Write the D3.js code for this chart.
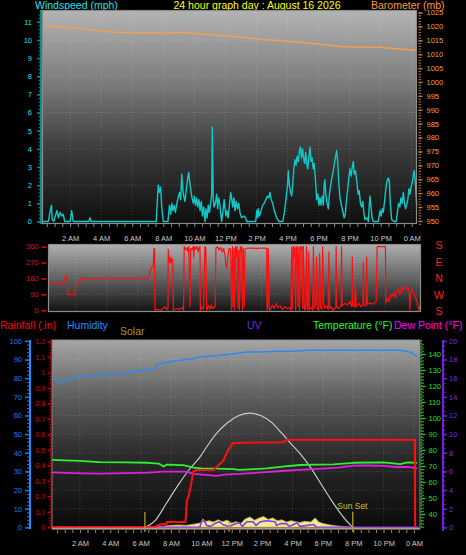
<!DOCTYPE html>
<html><head><meta charset="utf-8">
<script src="https://cdn.jsdelivr.net/npm/d3@7"></script>
<style>
html,body{margin:0;padding:0;background:#000;overflow:hidden;}
svg{display:block;}
text{font-family:"Liberation Sans",Arial,sans-serif;}
</style></head><body>
<svg id="c" width="466" height="555"></svg>
<script>
// ---------- DATA ----------
const hourTicks = [2,4,6,8,10,12,14,16,18,20,22,24];
const hourLabels = ["2 AM","4 AM","6 AM","8 AM","10 AM","12 PM","2 PM","4 PM","6 PM","8 PM","10 PM","0 AM"];
const titleText = "24 hour graph day : August 16 2026";

// windspeed (mph): [hour, value]
const windspeed = [[0.2,0],[0.6,0],[0.7,0.5],[0.8,0.9],[0.85,0.1],[0.95,0],[1.05,0.3],[1.15,0.6],[1.25,0.2],[1.35,0.5],[1.45,0.3],[1.55,0.4],[1.65,0],[2.0,0],[2.1,0.6],[2.2,0],[3.2,0],[3.28,0.2],[3.35,0],[7.55,0],[7.62,1.2],[7.68,2.0],[7.75,1.6],[7.83,1.9],[7.9,0.8],[8.0,0],[8.3,0],[8.4,0.9],[8.48,0.4],[8.55,1.0],[8.62,0.6],[8.7,0.9],[8.78,0.5],[8.86,0.9],[8.95,1.3],[9.05,1.6],[9.12,1.2],[9.19,2.6],[9.25,1.8],[9.32,1.4],[9.4,1.1],[9.5,1.9],[9.58,2.4],[9.64,2.7],[9.7,2.2],[9.78,1.7],[9.85,1.3],[9.94,1.0],[10.0,1.4],[10.08,0.9],[10.15,1.3],[10.22,0.8],[10.3,1.2],[10.37,0.6],[10.45,1.1],[10.52,0.3],[10.6,0.8],[10.69,0],[10.75,0.7],[10.82,0.2],[10.9,0.9],[10.97,0.5],[11.05,1.0],[11.12,1.5],[11.16,5.2],[11.22,1.2],[11.27,0.8],[11.35,1.0],[11.44,1.5],[11.5,0.7],[11.57,1.3],[11.65,0.9],[11.7,0.4],[11.76,0],[11.85,0.6],[11.92,1.2],[11.98,0.7],[12.04,0.3],[12.1,0.6],[12.18,0.2],[12.26,0.9],[12.34,1.6],[12.4,1.3],[12.47,0.8],[12.55,1.3],[12.62,0.6],[12.7,1.1],[12.78,0.7],[12.86,1.0],[12.94,0.5],[13.0,0.3],[13.05,0.2],[13.2,0.3],[13.3,0.2],[13.37,0],[13.95,0],[14.02,0.6],[14.08,0.2],[14.12,0.7],[14.2,0.3],[14.3,0.6],[14.4,0.9],[14.5,1.0],[14.6,1.2],[14.7,1.4],[14.8,1.3],[14.87,1.6],[14.95,1.2],[15.05,1.0],[15.15,0.6],[15.3,0.2],[15.45,0],[15.7,0],[15.8,0.5],[15.9,1.2],[16.0,2.0],[16.05,2.8],[16.12,2.0],[16.2,1.6],[16.27,1.4],[16.35,2.2],[16.42,3.0],[16.48,3.4],[16.55,3.1],[16.62,3.6],[16.7,3.3],[16.77,3.9],[16.83,4.1],[16.9,3.5],[16.97,4.0],[17.02,3.6],[17.1,3.2],[17.17,3.8],[17.24,3.2],[17.3,2.9],[17.38,3.5],[17.45,4.1],[17.52,3.3],[17.58,3.5],[17.66,2.9],[17.72,3.2],[17.8,2.3],[17.88,1.2],[17.95,1.5],[18.02,0.9],[18.09,1.3],[18.16,0.9],[18.24,1.4],[18.31,0.9],[18.36,2.0],[18.41,2.3],[18.47,1.5],[18.55,1.0],[18.63,0.7],[18.7,1.5],[18.78,2.0],[18.86,2.4],[18.95,2.8],[19.02,3.2],[19.1,3.6],[19.17,3.9],[19.24,3.2],[19.3,2.2],[19.38,1.3],[19.45,1.0],[19.55,0.6],[19.65,0.2],[19.72,0.4],[19.8,1.2],[19.88,1.8],[19.95,2.4],[20.02,2.9],[20.1,2.5],[20.17,3.0],[20.24,3.3],[20.3,2.6],[20.38,2.8],[20.45,2.3],[20.55,1.5],[20.62,1.7],[20.7,1.0],[20.78,0.8],[20.85,1.1],[20.92,0.5],[20.99,0.1],[21.1,0.2],[21.21,0],[21.26,0.8],[21.31,1.4],[21.38,0.8],[21.45,0.2],[21.53,0],[21.85,0],[21.9,0.3],[21.96,0.6],[22.03,0.3],[22.1,0.7],[22.17,0.5],[22.25,1.1],[22.32,1.7],[22.4,2.2],[22.49,2.4],[22.56,2.2],[22.62,1.0],[22.71,0.1],[22.85,0],[23.0,0],[23.08,0.5],[23.15,1.0],[23.24,0.8],[23.3,1.3],[23.38,1.0],[23.46,1.6],[23.52,1.1],[23.6,0.7],[23.67,0.9],[23.75,1.2],[23.82,1.8],[23.89,1.5],[23.95,1.9],[24.05,2.2],[24.15,2.8],[24.22,2.3],[24.32,0.9]];

// barometer (mb)
const barometer = [[0.2,1020.2],[1.0,1019.9],[2.0,1019.5],[2.83,1019.2],[3.93,1018.3],[5.0,1017.9],[6.05,1017.8],[7.0,1017.7],[8.24,1017.6],[9.53,1017.9],[10.37,1017.3],[11.5,1016.8],[12.49,1016.4],[13.3,1016.0],[14.23,1015.4],[15.5,1014.8],[16.8,1014.3],[18.0,1013.7],[19.38,1012.8],[20.5,1012.6],[21.96,1012.5],[23.0,1012.0],[24.3,1011.4]];

// wind direction (degrees)
const windDirection = [[0.33,153],[0.5,152],[0.76,150],[0.9,148],[1.08,145],[1.2,160],[1.3,178],[1.41,195],[1.45,150],[1.51,88],[1.94,88],[1.97,130],[2.01,145],[2.22,150],[2.28,170],[2.31,180],[6.68,180],[6.75,200],[6.83,230],[6.95,245],[7.0,250],[7.05,350],[7.09,345],[7.11,0],[7.3,5],[7.5,0],[7.76,20],[7.85,5],[7.95,10],[7.97,345],[8.02,270],[8.08,300],[8.14,265],[8.2,295],[8.26,280],[8.3,0],[8.5,10],[8.7,5],[8.9,15],[8.96,0],[9.0,360],[9.1,340],[9.18,355],[9.25,330],[9.3,360],[9.38,20],[9.42,350],[9.5,340],[9.58,360],[9.62,300],[9.66,360],[9.75,345],[9.82,360],[9.9,330],[9.96,355],[10.02,360],[10.05,0],[10.15,20],[10.25,5],[10.34,360],[10.4,350],[10.45,0],[10.55,25],[10.65,5],[10.75,30],[10.85,10],[11.0,20],[11.05,350],[11.15,360],[11.25,340],[11.35,355],[11.45,330],[11.55,350],[11.65,300],[11.7,250],[11.75,240],[11.82,300],[11.9,350],[12.0,345],[12.07,0],[12.12,360],[12.17,20],[12.22,350],[12.27,0],[12.32,360],[12.37,300],[12.42,360],[12.47,10],[12.52,340],[12.57,0],[12.62,360],[12.67,330],[12.72,360],[12.77,0],[12.82,350],[12.88,20],[12.93,345],[12.99,350],[13.3,352],[13.7,350],[14.0,352],[14.33,350],[14.35,0],[14.4,30],[14.43,350],[14.5,10],[14.54,0],[14.7,30],[14.8,10],[14.95,40],[15.05,15],[15.2,25],[15.35,5],[15.5,20],[15.65,10],[15.8,15],[15.9,0],[15.95,355],[16.0,10],[16.05,360],[16.1,300],[16.15,360],[16.2,0],[16.25,350],[16.3,360],[16.35,20],[16.4,355],[16.45,0],[16.5,360],[16.55,340],[16.6,360],[16.65,10],[16.7,360],[16.75,30],[16.8,0],[16.85,10],[16.9,360],[16.95,20],[17.0,0],[17.05,330],[17.1,5],[17.2,15],[17.3,0],[17.35,360],[17.4,10],[17.5,30],[17.55,300],[17.6,10],[17.7,0],[17.75,320],[17.8,15],[17.9,5],[17.95,360],[18.0,40],[18.1,10],[18.2,25],[18.3,5],[18.35,330],[18.4,10],[18.5,20],[18.6,0],[18.7,10],[18.8,15],[18.82,360],[18.85,20],[19.0,10],[19.15,30],[19.17,360],[19.2,25],[19.4,40],[19.55,30],[19.7,50],[19.84,20],[19.86,300],[19.9,30],[20.0,20],[20.08,140],[20.12,20],[20.3,40],[20.4,20],[20.55,30],[20.57,270],[20.6,30],[20.75,25],[20.79,300],[20.83,35],[21.0,40],[21.2,35],[21.4,50],[21.47,360],[22.0,360],[22.03,40],[22.15,70],[22.25,50],[22.35,90],[22.45,80],[22.55,100],[22.65,70],[22.75,110],[22.85,120],[22.95,90],[23.05,130],[23.15,110],[23.25,135],[23.35,120],[23.45,130],[23.55,100],[23.58,0],[23.62,90],[23.72,120],[23.82,100],[23.9,80],[24.0,60],[24.08,40],[24.17,0],[24.25,30]];

// humidity (%)
const humidity = [[0.16,81],[0.5,79],[0.8,77.5],[1.1,79],[1.5,80],[2.0,80.5],[2.5,81],[3.0,81.5],[3.5,82],[4.0,82.5],[4.5,82],[5.0,83],[5.5,83.5],[6.0,84],[6.5,84.5],[6.9,85],[7.1,87.5],[7.5,88],[8.0,89],[8.5,89.5],[9.0,90],[9.5,90.5],[10.0,91.5],[11.0,92],[12.0,93],[13.0,94],[14.0,94],[15.0,94.5],[16.0,94.5],[17.0,95],[18.0,95],[19.0,95],[20.0,95],[21.0,95],[22.0,95],[23.0,95],[23.5,94.5],[23.9,93.5],[24.2,91.5]];

// rainfall (in)
const rainfall = [[0.16,0],[6.95,0],[7.05,0.01],[7.35,0.02],[7.7,0.02],[7.72,0.035],[8.95,0.035],[9.0,0.1],[9.04,0.17],[9.14,0.195],[9.25,0.24],[9.36,0.30],[9.47,0.36],[9.69,0.37],[10.79,0.37],[11.0,0.39],[11.44,0.43],[11.77,0.50],[12.1,0.545],[15.4,0.55],[15.62,0.566],[24.07,0.566],[24.08,0]];

// temperature & dew point (°F)
const temperature = [[0.16,73.8],[1.0,73.5],[2.0,73.2],[3.3,72.4],[5.0,72.2],[6.5,72],[7.2,71.5],[7.5,69.6],[7.7,70.8],[8.8,70.5],[9.47,69],[10.0,68.5],[11.0,68.3],[12.1,68],[12.5,67.5],[13.5,68],[14.3,68.5],[15.5,69.8],[16.5,70.6],[17.5,70.8],[18.7,71],[20.0,72],[22.0,72.2],[23.1,71.2],[23.6,72.3],[24.2,72]];
const dewPoint = [[0.16,66],[1.5,65.5],[3.3,65.2],[5.0,65.5],[6.5,65.8],[7.5,66.5],[9.0,66.5],[9.5,65],[10.5,64.3],[11.0,63.8],[11.5,64.6],[12.5,65],[14.0,66],[15.5,67],[16.5,67.5],[18.0,68.3],[19.0,69],[20.0,70.2],[21.0,70.3],[22.0,70],[23.0,69.2],[23.6,69.5],[24.2,68.5]];

// solar (W/m²): theoretical max curve and measured
const solarMax = [[6.3,0],[7.0,40],[7.7,129],[8.5,230],[9.2,310],[9.9,377],[10.5,450],[11.0,504],[11.7,560],[12.4,598],[13.15,613],[13.9,600],[14.6,565],[15.3,505],[16.0,440],[16.5,395],[17.2,320],[17.9,230],[18.6,140],[19.3,60],[19.95,0]];
const solar = [[6.5,0],[7.0,2],[7.5,5],[8.0,10],[8.5,12],[9.0,10],[9.3,14],[9.6,18],[10.0,24],[10.1,45],[10.2,30],[10.5,35],[10.8,28],[11.1,40],[11.4,30],[11.7,38],[12.0,22],[12.3,30],[12.6,20],[12.9,45],[13.2,55],[13.5,38],[13.8,50],[14.1,58],[14.4,42],[14.7,50],[15.0,35],[15.3,40],[15.6,28],[15.9,35],[16.2,30],[16.5,25],[16.8,32],[17.2,28],[17.5,50],[17.7,30],[18.0,20],[18.5,12],[19.0,6],[19.5,3],[19.9,0]];

// UV index
const uvIndex = [[0.16,0],[9.9,0],[10.0,0.6],[10.2,0.7],[10.35,0.2],[10.6,0.1],[11.0,0.5],[11.2,0.6],[11.4,0.3],[11.8,0.1],[12.3,0.4],[12.5,0.5],[12.7,0.1],[13.0,0.6],[13.4,0.6],[13.6,0.2],[13.9,0.6],[14.3,0.7],[14.85,0.6],[14.95,0.2],[15.2,0.4],[15.6,0.4],[15.8,0.1],[16.3,0.5],[16.5,0.1],[17.4,0.3],[17.6,0],[24.3,0]];

// sun event markers (hour)
const sunMarkers = [[6.28,"rise"],[11.82,"mid"],[19.97,"set"]];

// ---------- CHART ----------
const svg = d3.select("#c");
const defs = svg.append("defs");
function grad(id, stops){
  const g = defs.append("linearGradient").attr("id",id).attr("x1",0).attr("y1",0).attr("x2",0).attr("y2",1);
  stops.forEach(s=>g.append("stop").attr("offset",s[0]).attr("stop-color",s[1]));
}
grad("gTop",[[0,"#b4b4b4"],[0.35,"#7a7a7a"],[0.65,"#3c3c3c"],[1,"#0e0e0e"]]);
grad("gMid",[[0,"#b0b0b0"],[0.45,"#6a6a6a"],[1,"#121212"]]);
grad("gBot",[[0,"#a6a6a6"],[0.3,"#5e5e5e"],[0.6,"#2c2c2c"],[1,"#0a0a0a"]]);

const FS = "7.5px";
function txt(x,y,s,color,size,anchor){
  return svg.append("text").attr("x",x).attr("y",y).text(s).attr("fill",color)
    .style("font-size",size).attr("text-anchor",anchor||"start");
}

function yAxis(o){
  const mk = o.side==="left"?d3.axisLeft:d3.axisRight;
  if(o.minor){
    const gm = svg.append("g").attr("transform",`translate(${o.x},0)`)
      .call(mk(o.scale).tickValues(o.minor).tickSize(o.minLen).tickSizeOuter(0).tickFormat(""));
    gm.select(".domain").remove();
    gm.selectAll("line").attr("stroke",o.tick).attr("stroke-width",1);
  }
  const g = svg.append("g").attr("transform",`translate(${o.x},0)`)
    .call(mk(o.scale).tickValues(o.major).tickSize(o.majLen).tickSizeOuter(0).tickPadding(o.pad).tickFormat(o.fmt||(d=>d)));
  g.select(".domain").remove();
  g.selectAll("line").attr("stroke",o.tick).attr("stroke-width",1.5);
  g.selectAll("text").attr("fill",o.label).style("font-size",FS).attr("font-family","Liberation Sans, Arial, sans-serif");
  if(o.line){
    svg.append("line").attr("x1",o.x).attr("x2",o.x).attr("y1",o.y0).attr("y2",o.y1)
      .attr("stroke",o.line).attr("stroke-width",o.lineW||1.5).attr("stroke-dasharray",o.dash||null);
  }
}
function xAxis(scale, y, labelY){
  const minor = d3.range(0.5,24.5,0.5).filter(h=>scale(h)>=scale.range()[0]&&scale(h)<=scale.range()[1]);
  const gm = svg.append("g").attr("transform",`translate(0,${y})`)
    .call(d3.axisBottom(scale).tickValues(minor).tickSize(3).tickSizeOuter(0).tickFormat(""));
  gm.select(".domain").remove();
  gm.selectAll("line").attr("stroke","#8a8a8a");
  const g = svg.append("g").attr("transform",`translate(0,${y})`)
    .call(d3.axisBottom(scale).tickValues(hourTicks).tickSize(0).tickSizeOuter(0).tickPadding(labelY)
      .tickFormat((d,i)=>hourLabels[i]));
  g.select(".domain").remove();
  g.selectAll("text").attr("fill","#c8c8c8").style("font-size",FS).attr("font-family","Liberation Sans, Arial, sans-serif");
}
function plotBg(x0,x1,y0,y1,gid){
  svg.append("rect").attr("x",x0).attr("y",y0).attr("width",x1-x0).attr("height",y1-y0).attr("fill",`url(#${gid})`);
}
function grid(xs, ys, x0,x1,y0,y1, hv, vv){
  const g = svg.append("g").attr("stroke","#ffffff").attr("stroke-opacity",0.16).attr("stroke-dasharray","1,2");
  vv.forEach(v=>g.append("line").attr("x1",xs(v)).attr("x2",xs(v)).attr("y1",y0).attr("y2",y1));
  hv.forEach(v=>g.append("line").attr("x1",x0).attr("x2",x1).attr("y1",ys(v)).attr("y2",ys(v)));
}
function frame(x0,x1,y0,y1,color){
  svg.append("rect").attr("x",x0+0.5).attr("y",y0+0.5).attr("width",x1-x0-1).attr("height",y1-y0-1)
    .attr("fill","none").attr("stroke",color).attr("stroke-width",1.2);
}
function path(data, xs, ys, color, w, curve){
  svg.append("path").datum(data).attr("fill","none").attr("stroke",color).attr("stroke-width",w)
    .attr("stroke-linejoin","round")
    .attr("d",d3.line().x(d=>xs(d[0])).y(d=>ys(d[1])).curve(curve||d3.curveLinear));
}

// ---- header ----
txt(35,9,"Windspeed (mph)","#22e0ee","10.5px");
txt(257,9,titleText,"#ffff00","10.5px","middle");
txt(371,9,"Barometer (mb)","#ff9933","10.5px");

// ---- TOP chart ----
const T = {x0:42,x1:417,y0:10,y1:224};
const xTop = d3.scaleLinear().domain([0.19,24.34]).range([T.x0,T.x1]);
const yWind = d3.scaleLinear().domain([-0.14,11.65]).range([T.y1,T.y0]);
const yBaro = d3.scaleLinear().domain([948.9,1025.9]).range([T.y1,T.y0]);
plotBg(T.x0,T.x1,T.y0,T.y1,"gTop");
grid(xTop,yWind,T.x0,T.x1,T.y0,T.y1,[2,4,6,8,10],hourTicks);
path(barometer,xTop,yBaro,"#f0a050",1.5);
path(windspeed,xTop,yWind,"#10c8c8",1.4);
frame(T.x0,T.x1,T.y0,T.y1,"#8c8c8c");
yAxis({side:"left",x:41,scale:yWind,major:d3.range(0,12),minor:d3.range(0,11.6,0.2),majLen:4,minLen:2.5,pad:5,
  tick:"#0a8f8f",label:"#22e0ee",line:"#0a8f8f",y0:T.y0,y1:T.y1,lineW:2});
yAxis({side:"right",x:418.5,scale:yBaro,major:d3.range(950,1026,5),minor:d3.range(949,1026,1),majLen:4,minLen:2.5,pad:4,
  tick:"#b8783a",label:"#ff9933"});
xAxis(xTop,T.y1,12);

// ---- MIDDLE chart ----
const M = {x0:48,x1:421,y0:244,y1:312};
const xMid = d3.scaleLinear().domain([0.2,24.3]).range([M.x0,M.x1]);
const yDir = d3.scaleLinear().domain([-9.8,374.6]).range([M.y1,M.y0]);
plotBg(M.x0,M.x1,M.y0,M.y1,"gMid");
grid(xMid,yDir,M.x0,M.x1,M.y0,M.y1,[90,180,270],hourTicks);
path(windDirection,xMid,yDir,"#ff1010",1.2);
frame(M.x0,M.x1,M.y0,M.y1,"#8c8c8c");
yAxis({side:"left",x:46.5,scale:yDir,major:[0,90,180,270,360],minor:null,majLen:5,pad:3,
  tick:"#d01010",label:"#e01010"});
const compass = ["S","E","N","W","S"];
compass.forEach((c,i)=>txt(439,249+i*16.6,c,"#ff2020","10.5px","middle"));

// ---- legend row ----
txt(0,329,"Rainfall (.in)","#ff0000","10.5px");
txt(67,329,"Humidity","#1e8cff","10.5px");
txt(120,335,"Solar","#a09a1e","10.5px");
txt(247,329,"UV","#7a28e8","10.5px");
txt(313,329,"Temperature (°F)","#22ff22","10.5px");
txt(394,329,"Dew Point (°F)","#ff00ff","10.5px");

// ---- BOTTOM chart ----
const B = {x0:52,x1:420,y0:340,y1:529};
const xBot = d3.scaleLinear().domain([0.16,24.4]).range([B.x0,B.x1]);
const yHum = d3.scaleLinear().domain([-0.9,100.5]).range([B.y1,B.y0]);
const yRain = d3.scaleLinear().domain([-0.011,1.2097]).range([B.y1,B.y0]);
const yTemp = d3.scaleLinear().domain([30.6,148.75]).range([B.y1,B.y0]);
const yUV = d3.scaleLinear().domain([-0.18,20.1]).range([B.y1,B.y0]);
const ySolar = d3.scaleLinear().domain([-9.5,1006]).range([B.y1,B.y0]);
plotBg(B.x0,B.x1,B.y0,B.y1,"gBot");
grid(xBot,yHum,B.x0,B.x1,B.y0,B.y1,[10,20,30,40,50,60,70,80,90],hourTicks);
path(solarMax,xBot,ySolar,"#cfcfcf",1.1,d3.curveMonotoneX);
path(humidity,xBot,yHum,"#2a8cf0",1.5);
path(temperature,xBot,yTemp,"#30f030",1.8);
path(dewPoint,xBot,yTemp,"#e020e0",1.8);
svg.append("path").datum(solar).attr("fill","#eeea9c").attr("stroke","#b8b030").attr("stroke-width",0.8)
  .attr("d",d3.area().x(d=>xBot(d[0])).y0(ySolar(0)).y1(d=>ySolar(d[1])));
path(uvIndex,xBot,yUV,"#8a38e8",1.6);
path(rainfall,xBot,yRain,"#ff1010",2);
svg.append("line").attr("x1",B.x0).attr("x2",B.x1).attr("y1",B.y1-0.5).attr("y2",B.y1-0.5).attr("stroke","#d8a878").attr("stroke-width",1.5);
sunMarkers.forEach(m=>{
  const x = xBot(m[0]);
  svg.append("line").attr("x1",x).attr("x2",x).attr("y1",m[1]==="mid"?521:512).attr("y2",532)
    .attr("stroke","#b8a820").attr("stroke-width",1.2);
  if(m[1]==="set") txt(x-15.5,509,"Sun Set","#c8c028","8.5px");
});
svg.append("rect").attr("x",B.x0).attr("y",B.y0).attr("width",B.x1-B.x0).attr("height",B.y1-B.y0)
  .attr("fill","none").attr("stroke","#8c8c8c").attr("stroke-width",1);
yAxis({side:"left",x:30,scale:yHum,major:d3.range(0,101,10),minor:d3.range(0,101,2),majLen:5,minLen:3,pad:3,
  tick:"#1e78e6",label:"#1e78e6",line:"#1e8cff",y0:B.y0,y1:B.y1,lineW:2});
yAxis({side:"left",x:50.5,scale:yRain,major:d3.range(0,12.1,1).map(d=>d/10),minor:null,majLen:3,pad:2,
  tick:"#cc0000",label:"#cc0000",line:"#cc0000",y0:B.y0,y1:B.y1,lineW:1.5,dash:"1.5,1.5",
  fmt:d=>(d===0?"0":(d===1?"1":d3.format(".1f")(d).replace(/^0/,"0")))});
yAxis({side:"right",x:421.5,scale:yTemp,major:d3.range(40,141,10),minor:d3.range(32,148,2),majLen:4,minLen:2.5,pad:3,
  tick:"#18c018",label:"#22e022",line:"#18c018",y0:B.y0,y1:B.y1,lineW:1.5,dash:"1.5,1.5"});
yAxis({side:"right",x:443,scale:yUV,major:d3.range(0,21,2),minor:d3.range(0,20.1,0.5),majLen:4,minLen:2.5,pad:2,
  tick:"#7020e0",label:"#7a28e8",line:"#7020e0",y0:B.y0,y1:B.y1+2,lineW:2});
xAxis(xBot,B.y1+1,11);
</script>
</body></html>
